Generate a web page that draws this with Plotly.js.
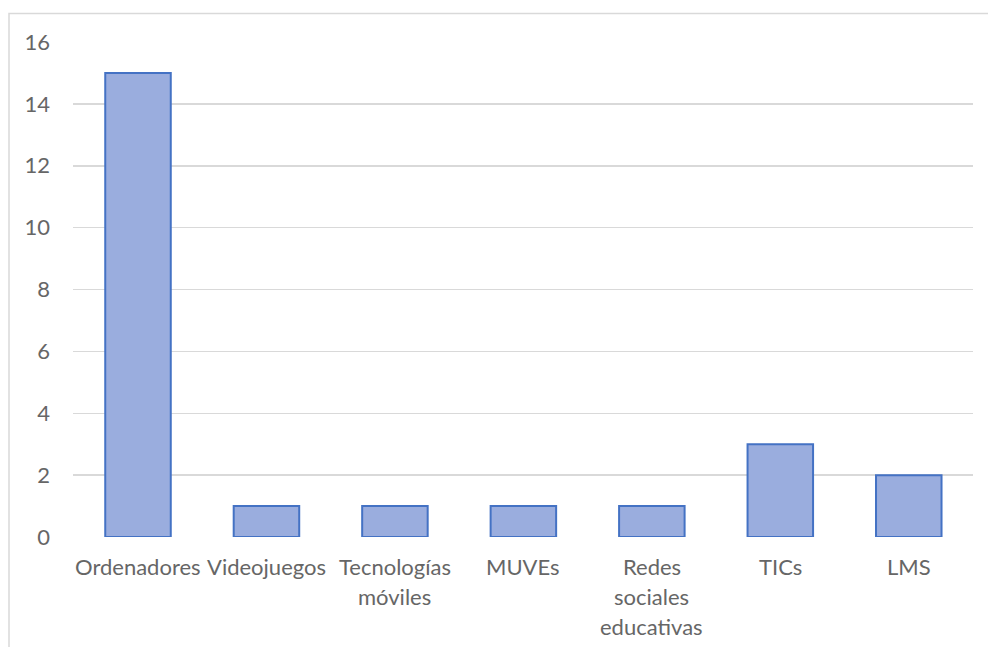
<!DOCTYPE html>
<html>
<head>
<meta charset="utf-8">
<script src="https://cdn.plot.ly/plotly-3.0.1.min.js"></script>
<style>
  html, body { margin: 0; padding: 0; background: #ffffff; }
  #chart { width: 988px; height: 647px; }
</style>
</head>
<body>
<div id="chart"></div>
<script>
const categories = ["Ordenadores", "Videojuegos", "Tecnologías móviles", "MUVEs", "Redes sociales educativas", "TICs", "LMS"];
const labelLines = [["Ordenadores"], ["Videojuegos"], ["Tecnologías", "móviles"], ["MUVEs"], ["Redes", "sociales", "educativas"], ["TICs"], ["LMS"]];
const values = [15, 1, 1, 1, 1, 3, 2];
const yTicks = [0, 2, 4, 6, 8, 10, 12, 14, 16];

const textColor = "#666666";
const fontFamily = "Lato, 'Open Sans', sans-serif";
const fontSize = 22;

const annotations = [];
labelLines.forEach((lines, i) => {
  lines.forEach((line, j) => {
    annotations.push({
      x: categories[i], y: 0, xref: "x", yref: "y",
      text: line, showarrow: false,
      xanchor: "center", yanchor: "top",
      yshift: -14 - j * 30,
      font: { family: fontFamily, size: fontSize, color: textColor }
    });
  });
});

const trace = {
  type: "bar",
  x: categories,
  y: values,
  marker: { color: "#9aadde", line: { color: "#4472c4", width: 2 } },
  hoverinfo: "x+y"
};

const layout = {
  width: 988, height: 647,
  margin: { l: 73, r: 15, t: 42, b: 110 },
  paper_bgcolor: "#ffffff", plot_bgcolor: "#ffffff",
  bargap: 0.49,
  showlegend: false,
  font: { family: fontFamily, size: fontSize, color: textColor },
  xaxis: {
    type: "category",
    showticklabels: false,
    showgrid: false, zeroline: false, showline: false, ticks: ""
  },
  yaxis: {
    range: [0, 16],
    tickvals: yTicks,
    ticktext: yTicks.map(String),
    showgrid: true, gridcolor: "#d9d9d9", gridwidth: 1.5,
    zeroline: false, showline: false, ticks: "",
    ticklabelstandoff: 22,
    tickfont: { family: fontFamily, size: fontSize, color: textColor }
  },
  annotations: annotations,
  shapes: [{
    type: "rect", xref: "paper", yref: "paper",
    x0: (9 - 73) / 900, x1: (1010 - 73) / 900,
    y0: (537 - 700) / 495, y1: (537 - 13.5) / 495,
    line: { color: "#d9d9d9", width: 1.5 }, fillcolor: "rgba(0,0,0,0)", layer: "below"
  }]
};

Plotly.newPlot("chart", [trace], layout, { displayModeBar: false, staticPlot: true });
</script>
</body>
</html>
